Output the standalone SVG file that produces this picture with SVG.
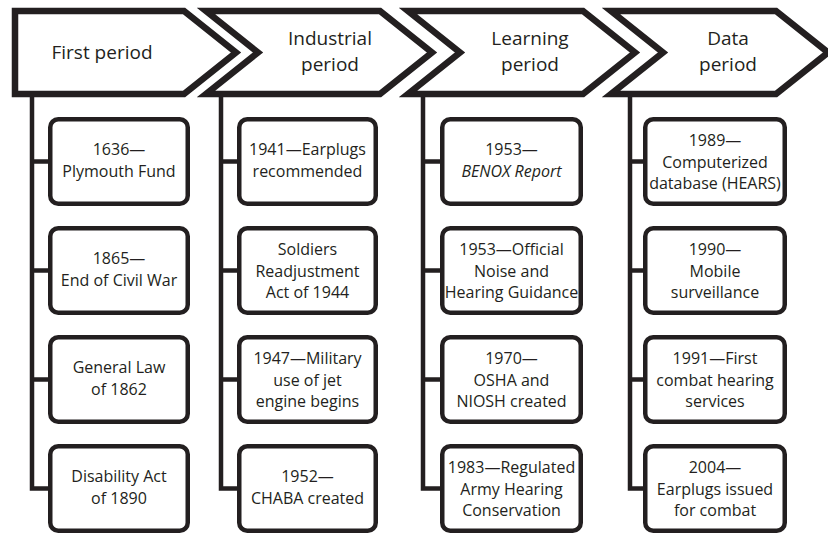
<svg xmlns="http://www.w3.org/2000/svg" width="828" height="537" viewBox="0 0 828 537">
<style>
.chev{fill:#fff;stroke:#231f20;stroke-width:6.5;stroke-linejoin:miter;stroke-miterlimit:10}
.box{fill:#fff;stroke:#231f20;stroke-width:4.5}
.ln{fill:none;stroke:#231f20;stroke-width:4.5;stroke-linejoin:miter}
.h{font-family:"Open Sans","Noto Sans",sans-serif;font-size:19px;fill:#231f20;text-anchor:middle}
.t{font-family:"Open Sans","Noto Sans",sans-serif;font-size:16px;fill:#231f20;text-anchor:middle}
.i{font-style:italic}
</style>
<rect width="828" height="537" fill="#fff"/>
<g id="connectors">
<path class="ln" d="M32,95 V488.5 H48 M32,161.5 H48 M32,270.5 H48 M32,379.5 H48"/>
<path class="ln" d="M221,95 V488.5 H237 M221,161.5 H237 M221,270.5 H237 M221,379.5 H237"/>
<path class="ln" d="M423,95 V488.5 H440 M423,161.5 H440 M423,270.5 H440 M423,379.5 H440"/>
<path class="ln" d="M630,95 V488.5 H643 M630,161.5 H643 M630,270.5 H643 M630,379.5 H643"/>
</g>
<g id="p1">
<path class="chev" d="M15,11 H184 L236,52.5 L184,94 H15 Z"/>
<text class="h" x="102" y="59">First period</text>
</g>
<g id="p2">
<path class="chev" d="M206,11 H380 L432,52.5 L380,94 H206 L258,52.5 Z"/>
<text class="h" x="330" y="45">Industrial</text>
<text class="h" x="330" y="71">period</text>
</g>
<g id="p3">
<path class="chev" d="M408,11 H583 L635,52.5 L583,94 H408 L460,52.5 Z"/>
<text class="h" x="530" y="45">Learning</text>
<text class="h" x="530" y="71">period</text>
</g>
<g id="p4">
<path class="chev" d="M611,11 H776 L828,52.5 L776,94 H611 L663,52.5 Z"/>
<text class="h" x="728" y="45">Data</text>
<text class="h" x="728" y="71">period</text>
</g>
<g id="b11"><rect class="box" x="50.25" y="119.25" width="137.5" height="84.5" rx="8"/><text class="t" x="119" y="155">1636—</text><text class="t" x="119" y="177">Plymouth Fund</text></g>
<g id="b12"><rect class="box" x="50.25" y="228.25" width="137.5" height="84.5" rx="8"/><text class="t" x="119" y="264">1865—</text><text class="t" x="119" y="286">End of Civil War</text></g>
<g id="b13"><rect class="box" x="50.25" y="337.25" width="137.5" height="84.5" rx="8"/><text class="t" x="119" y="373">General Law</text><text class="t" x="119" y="395">of 1862</text></g>
<g id="b14"><rect class="box" x="50.25" y="446.25" width="137.5" height="84.5" rx="8"/><text class="t" x="119" y="482">Disability Act</text><text class="t" x="119" y="504">of 1890</text></g>

<g id="b21"><rect class="box" x="239.25" y="119.25" width="136.5" height="84.5" rx="8"/><text class="t" x="307.5" y="155">1941—Earplugs</text><text class="t" x="307.5" y="177">recommended</text></g>
<g id="b22"><rect class="box" x="239.25" y="228.25" width="136.5" height="84.5" rx="8"/><text class="t" x="307.5" y="255">Soldiers</text><text class="t" x="307.5" y="277">Readjustment</text><text class="t" x="307.5" y="298">Act of 1944</text></g>
<g id="b23"><rect class="box" x="239.25" y="337.25" width="136.5" height="84.5" rx="8"/><text class="t" x="307.5" y="364">1947—Military</text><text class="t" x="307.5" y="386">use of jet</text><text class="t" x="307.5" y="407">engine begins</text></g>
<g id="b24"><rect class="box" x="239.25" y="446.25" width="136.5" height="84.5" rx="8"/><text class="t" x="307.5" y="482">1952—</text><text class="t" x="307.5" y="504">CHABA created</text></g>

<g id="b31"><rect class="box" x="442.25" y="119.25" width="138.5" height="84.5" rx="8"/><text class="t" x="511.5" y="155">1953—</text><text class="t i" x="511.5" y="177">BENOX Report</text></g>
<g id="b32"><rect class="box" x="442.25" y="228.25" width="138.5" height="84.5" rx="8"/><text class="t" x="511.5" y="255">1953—Official</text><text class="t" x="511.5" y="277">Noise and</text><text class="t" x="511.5" y="298">Hearing Guidance</text></g>
<g id="b33"><rect class="box" x="442.25" y="337.25" width="138.5" height="84.5" rx="8"/><text class="t" x="511.5" y="364">1970—</text><text class="t" x="511.5" y="386">OSHA and</text><text class="t" x="511.5" y="407">NIOSH created</text></g>
<g id="b34"><rect class="box" x="442.25" y="446.25" width="138.5" height="84.5" rx="8"/><text class="t" x="511.5" y="473">1983—Regulated</text><text class="t" x="511.5" y="495">Army Hearing</text><text class="t" x="511.5" y="516">Conservation</text></g>

<g id="b41"><rect class="box" x="645.25" y="119.25" width="139.5" height="84.5" rx="8"/><text class="t" x="715" y="146">1989—</text><text class="t" x="715" y="168">Computerized</text><text class="t" x="715" y="189">database (HEARS)</text></g>
<g id="b42"><rect class="box" x="645.25" y="228.25" width="139.5" height="84.5" rx="8"/><text class="t" x="715" y="255">1990—</text><text class="t" x="715" y="277">Mobile</text><text class="t" x="715" y="298">surveillance</text></g>
<g id="b43"><rect class="box" x="645.25" y="337.25" width="139.5" height="84.5" rx="8"/><text class="t" x="715" y="364">1991—First</text><text class="t" x="715" y="386">combat hearing</text><text class="t" x="715" y="407">services</text></g>
<g id="b44"><rect class="box" x="645.25" y="446.25" width="139.5" height="84.5" rx="8"/><text class="t" x="715" y="473">2004—</text><text class="t" x="715" y="495">Earplugs issued</text><text class="t" x="715" y="516">for combat</text></g>
</svg>
